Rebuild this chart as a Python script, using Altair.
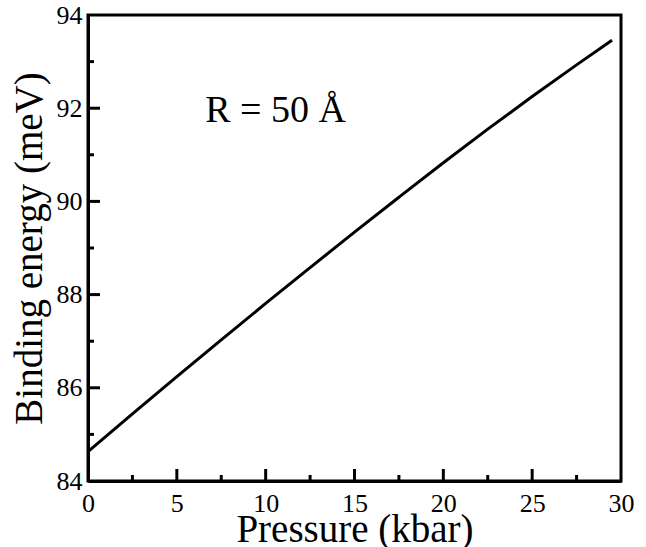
import altair as alt
import pandas as pd

pressure = [0, 2.5, 5, 7.5, 10, 12.5, 15, 17.5, 20, 22.5, 25, 27.5, 29.5]
energy = [84.63, 85.44, 86.24, 87.03, 87.81, 88.58, 89.34, 90.09, 90.83, 91.55, 92.25, 92.93, 93.46]

x_major = [0, 5, 10, 15, 20, 25, 30]
x_minor = [2.5, 7.5, 12.5, 17.5, 22.5, 27.5]
y_major = [84, 86, 88, 90, 92, 94]
y_minor = [85, 87, 89, 91, 93]

label_text = ["R = 50 Å"]
label_x = [6.6]
label_y = [91.7]

W, H = 533, 466
FONT = "Liberation Serif"

xs = alt.Scale(domain=[0, 30], nice=False, zero=False)
ys = alt.Scale(domain=[84, 94], nice=False, zero=False)

xaxis = alt.Axis(values=x_major, tickSize=0, grid=False, domainColor="black",
                 domainWidth=3, labelFont=FONT, labelFontSize=26, labelColor="black",
                 labelPadding=9, titleFont=FONT, titleFontSize=39, titleFontWeight="normal",
                 titleColor="black", titlePadding=-6, labelFlush=False)
yaxis = alt.Axis(values=y_major, tickSize=0, grid=False, domainColor="black",
                 domainWidth=3, labelFont=FONT, labelFontSize=26, labelColor="black",
                 labelPadding=6, titleFont=FONT, titleFontSize=39, titleFontWeight="normal",
                 titleColor="black", titlePadding=7, labelFlush=False)

line_df = pd.DataFrame({"p": pressure, "e": energy})
line = alt.Chart(line_df).mark_line(color="black", strokeWidth=3, interpolate="monotone").encode(
    x=alt.X("p:Q", scale=xs, axis=xaxis, title="Pressure (kbar)"),
    y=alt.Y("e:Q", scale=ys, axis=yaxis, title="Binding energy (meV)"),
)

xmaj = alt.Chart(pd.DataFrame({"p": x_major[1:-1]})).mark_rule(color="black", strokeWidth=3).encode(
    x=alt.X("p:Q", scale=xs), y=alt.value(H), y2=alt.value(H - 12))
xmin = alt.Chart(pd.DataFrame({"p": x_minor})).mark_rule(color="black", strokeWidth=3).encode(
    x=alt.X("p:Q", scale=xs), y=alt.value(H), y2=alt.value(H - 6))
ymaj = alt.Chart(pd.DataFrame({"e": y_major[1:-1]})).mark_rule(color="black", strokeWidth=3).encode(
    y=alt.Y("e:Q", scale=ys), x=alt.value(0), x2=alt.value(12))
ymin = alt.Chart(pd.DataFrame({"e": y_minor})).mark_rule(color="black", strokeWidth=3).encode(
    y=alt.Y("e:Q", scale=ys), x=alt.value(0), x2=alt.value(6))

txt = alt.Chart(pd.DataFrame({"t": label_text, "p": label_x, "e": label_y})).mark_text(
    font=FONT, fontSize=38, align="left", baseline="alphabetic", color="black").encode(
    x=alt.X("p:Q", scale=xs), y=alt.Y("e:Q", scale=ys), text="t:N")

chart = alt.layer(line, xmaj, xmin, ymaj, ymin, txt).properties(
    width=W, height=H,
    autosize=alt.AutoSizeParams(type="none"),
    padding={"left": 88, "top": 15, "right": 25, "bottom": 66},
    background="white",
).configure_view(stroke="black", strokeWidth=3)

chart.save("out.html", embed_options={"renderer": "svg", "actions": False})
